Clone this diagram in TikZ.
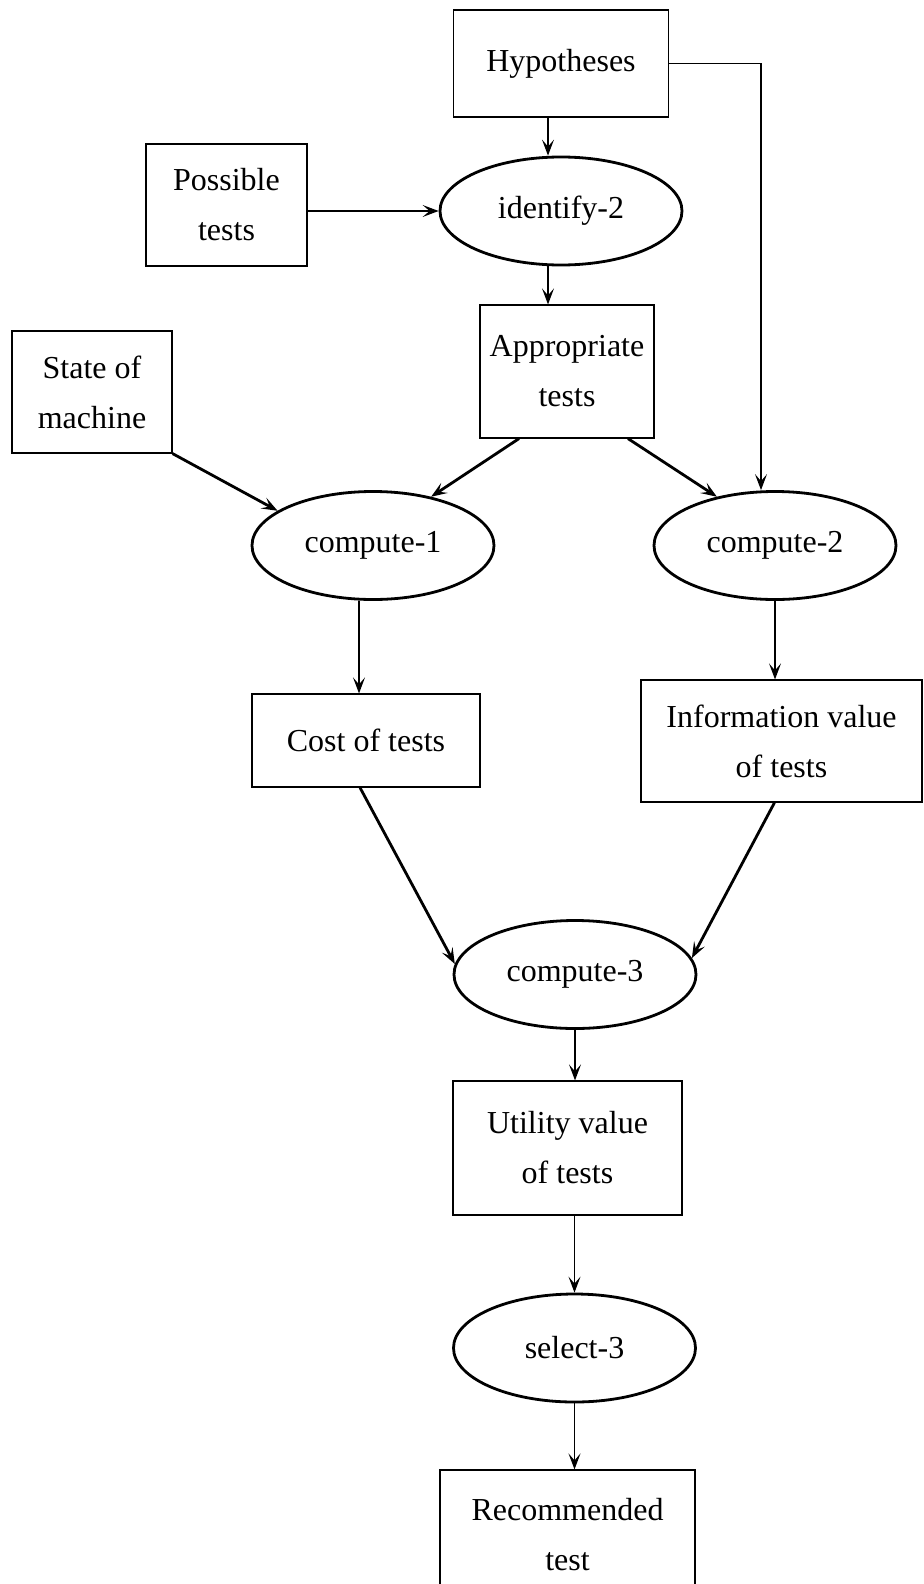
\documentclass[tikz,border=0pt]{standalone}
\usepackage{fontspec}
\setmainfont{Liberation Serif}
\usetikzlibrary{shapes.geometric,arrows.meta}
\begin{document}
\begin{tikzpicture}[x=0.5pt,y=-0.5pt,
        font=\fontsize{16}{25}\selectfont,
        box/.style={draw,line width=0.6pt,inner sep=0pt,align=center},
        proc/.style={draw,ellipse,line width=1.4pt,inner sep=0pt,minimum width=121pt,minimum height=54pt},
        arr/.style={-{Stealth[length=8pt,width=6pt,inset=3.5pt]},line width=0.6pt},
        heavyarr/.style={arr,line width=1.4pt}]
        \useasboundingbox (0,0) rectangle (924,1584);
        \clip (0,0) rectangle (924,1584);
        % data
            \node[box,minimum width=107.5pt,minimum height=53.5pt] (hyp) at (561,63.5) {Hypotheses};
            \node[box,minimum width=80.5pt,minimum height=61pt] (poss) at (226.5,205) {Possible\\tests};
            \node[box,minimum width=87pt,minimum height=66.5pt] (aptests) at (567,371.5) {Appropriate\\tests};
            \node[box,minimum width=80pt,minimum height=61pt] (state) at (92,392) {State of\\machine};
            \node[box,minimum width=114pt,minimum height=46.5pt] (cost) at (366,740.5) {Cost of tests};
            \node[box,minimum width=140.5pt,minimum height=61pt] (info) at (781.5,741) {Information value\\of tests};
            \node[box,minimum width=114.5pt,minimum height=67pt] (util) at (567.5,1148) {Utility value\\of tests};
            \node[box,minimum width=127.5pt,minimum height=65pt] (rec) at (567.5,1535) {Recommended\\test};
        % processes
            \foreach \n/\x/\y/\t in {id2/561/211/identify-2,c1/373/545.5/compute-1,c2/775/545.5/compute-2,c3/575/974.5/compute-3,sel3/574.5/1348/select-3}{
                \node[proc] (\n) at (\x,\y) {\t};
            }
        % arrows
            \draw[arr] ([xshift=-6.5pt]hyp.south) -- ([xshift=-6.5pt]id2.north);
            \draw[arr] (poss.east |- id2) -- (id2.west);
            \draw[arr] ([xshift=-6.5pt]id2.south) -- ([xshift=-6.5pt]id2.south |- aptests.north);
            \draw[arr] (hyp.east) -| ([xshift=-7pt]c2.north);
            \draw[heavyarr] (state.south east) -- (c1.160);
            \draw[heavyarr] ([xshift=-24pt]aptests.south) -- (c1.40);
            \draw[heavyarr] ([xshift=30.5pt]aptests.south) -- (c2.140);
            \draw[arr] ([xshift=-7pt]c1.south) -- ([xshift=-7pt]c1.south |- cost.north);
            \draw[arr] (c2.south) -- (c2.south |- info.north);
            \draw[heavyarr] ([xshift=-3pt]cost.south) -- (c3.175);
            \draw[heavyarr] ([xshift=-3.5pt]info.south) -- (c3.8);
            \draw[arr] (c3.south) -- (c3.south |- util.north);
            \draw[arr] (util.south -| sel3) -- (sel3.north);
            \draw[arr] (sel3.south) -- (sel3.south |- rec.north);
\end{tikzpicture}
\end{document}
